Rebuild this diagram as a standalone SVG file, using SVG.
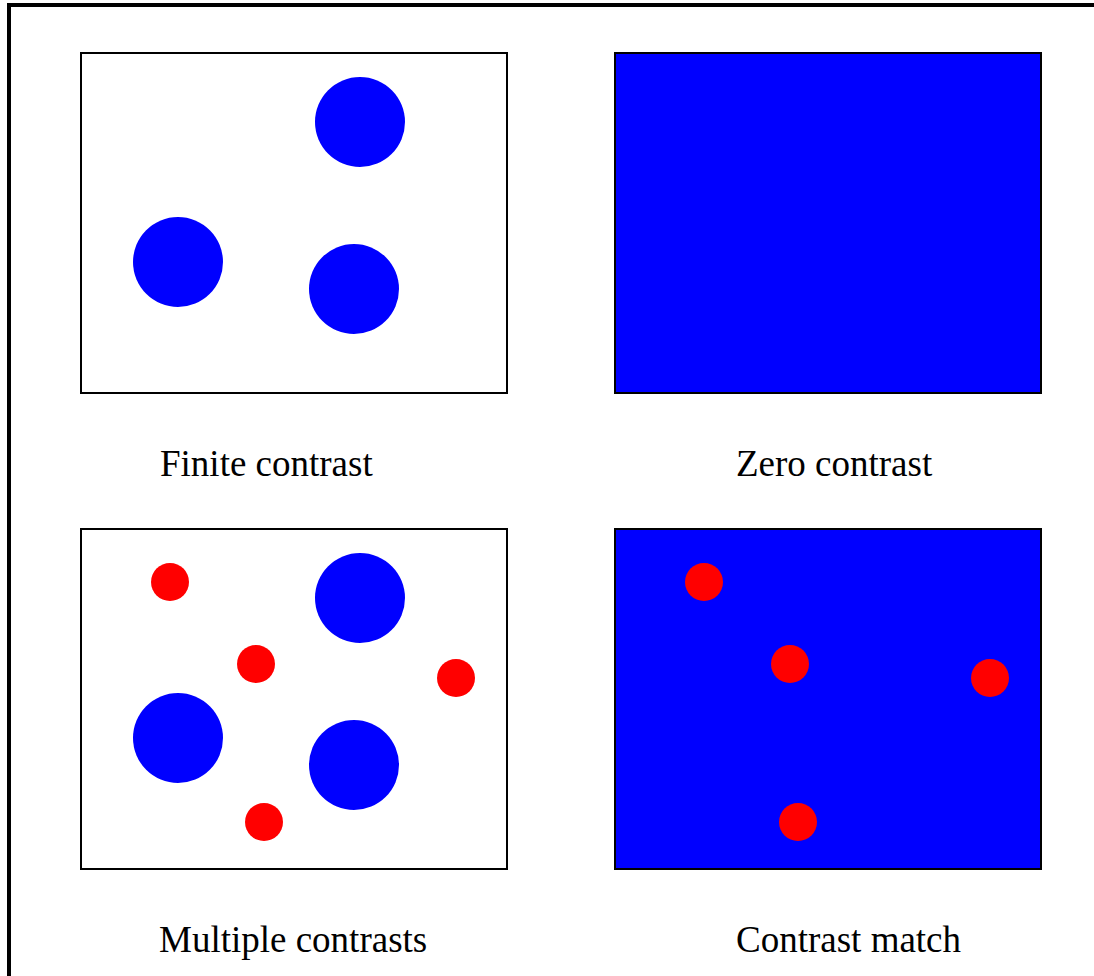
<svg xmlns="http://www.w3.org/2000/svg" width="1094" height="976" viewBox="0 0 1094 976">
<style>
.panel{stroke:#000;stroke-width:2}
.white{fill:#fff}
.bluebg{fill:#0000ff}
.big{fill:#0000ff}
.small{fill:#ff0000}
.lbl{font-family:"Liberation Serif","Times New Roman",serif;font-size:37px;fill:#000}
</style>
<rect x="0" y="0" width="1094" height="976" fill="#fff"/>
<rect id="frame" x="9" y="5" width="1100" height="1000" fill="none" stroke="#000" stroke-width="4"/>
<g id="finite">
<rect class="panel white" x="81" y="53" width="426" height="340"/>
<circle class="big" cx="360" cy="122" r="45"/>
<circle class="big" cx="178" cy="262" r="45"/>
<circle class="big" cx="354" cy="289" r="45"/>
<text class="lbl" x="160" y="476">Finite contrast</text>
</g>
<g id="zero">
<rect class="panel bluebg" x="615" y="53" width="426" height="340"/>
<text class="lbl" x="736" y="476">Zero contrast</text>
</g>
<g id="multiple">
<rect class="panel white" x="81" y="529" width="426" height="340"/>
<circle class="big" cx="360" cy="598" r="45"/>
<circle class="big" cx="178" cy="738" r="45"/>
<circle class="big" cx="354" cy="765" r="45"/>
<circle class="small" cx="170" cy="582" r="19"/>
<circle class="small" cx="256" cy="664" r="19"/>
<circle class="small" cx="456" cy="678" r="19"/>
<circle class="small" cx="264" cy="822" r="19"/>
<text class="lbl" x="159" y="952">Multiple contrasts</text>
</g>
<g id="match">
<rect class="panel bluebg" x="615" y="529" width="426" height="340"/>
<circle class="small" cx="704" cy="582" r="19"/>
<circle class="small" cx="790" cy="664" r="19"/>
<circle class="small" cx="990" cy="678" r="19"/>
<circle class="small" cx="798" cy="822" r="19"/>
<text class="lbl" x="736" y="952">Contrast match</text>
</g>
<g id="connectors"></g>
</svg>
